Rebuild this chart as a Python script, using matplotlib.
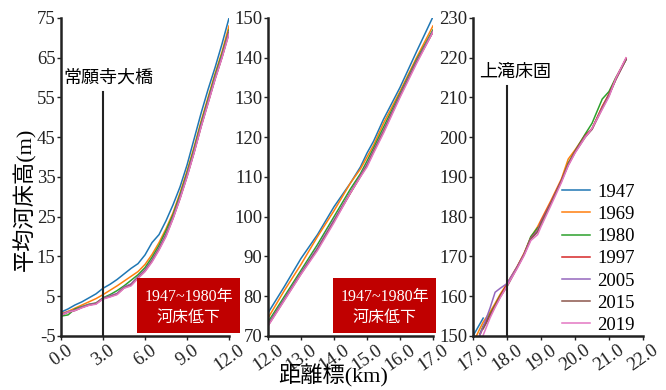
import matplotlib
matplotlib.use("Agg")
import matplotlib.pyplot as plt
from matplotlib.patches import Rectangle

plt.rcParams['font.family'] = ['Liberation Serif', 'Noto Sans CJK JP']
plt.rcParams['axes.unicode_minus'] = False

years = ['1947', '1969', '1980', '1997', '2005', '2015', '2019']
colors = ['#1f77b4', '#ff7f0e', '#2ca02c', '#d62728', '#9467bd', '#8c564b', '#e377c2']

# 0 - 12 km
km_a = [0, 0.5, 1, 1.5, 2, 2.5, 3, 3.5, 4, 4.5, 5, 5.5, 6, 6.5, 7, 7.5, 8, 8.5, 9, 9.5, 10, 10.5, 11, 11.5, 12]
bed_a = {
    '1947': [1.0, 1.8, 2.8, 3.6, 4.6, 5.6, 7.0, 8.0, 9.2, 10.6, 12.0, 13.2, 15.4, 18.5, 20.5, 24.0, 28.0, 32.5, 38.0, 44.5, 51.0, 57.0, 62.5, 68.5, 75.0],
    '1969': [0.6, 1.2, 2.0, 2.8, 3.6, 4.4, 5.4, 6.5, 7.6, 8.8, 10.0, 11.2, 13.0, 15.5, 18.5, 22.0, 26.0, 31.0, 36.5, 42.5, 49.0, 55.0, 61.0, 66.5, 73.0],
    '1980': [0.0, 0.3, 1.8, 2.4, 3.0, 3.3, 4.6, 5.4, 6.4, 7.6, 9.0, 10.4, 12.2, 14.8, 17.8, 21.5, 25.5, 30.5, 36.0, 42.0, 48.5, 54.5, 60.5, 66.0, 72.0],
    '1997': [0.3, 1.0, 1.5, 2.2, 2.8, 3.2, 4.4, 5.0, 5.6, 7.2, 8.0, 9.8, 11.5, 14.0, 17.0, 20.5, 24.8, 29.8, 35.3, 41.3, 47.8, 53.8, 59.8, 65.3, 71.5],
    '2005': [0.4, 1.1, 1.5, 2.3, 2.9, 3.2, 4.5, 5.1, 5.7, 7.3, 8.1, 9.9, 11.6, 14.1, 17.1, 20.6, 24.9, 29.9, 35.4, 41.4, 47.9, 53.9, 59.9, 65.4, 71.6],
    '2015': [0.2, 1.0, 1.4, 2.2, 2.8, 3.1, 4.4, 4.9, 5.5, 7.1, 7.8, 9.6, 11.3, 13.8, 16.8, 20.2, 24.6, 29.6, 35.1, 41.1, 47.6, 53.6, 59.6, 65.1, 71.2],
    '2019': [0.2, 1.0, 1.4, 2.1, 2.7, 3.0, 4.3, 4.8, 5.4, 7.0, 7.6, 9.5, 11.2, 13.6, 16.6, 20.0, 24.5, 29.5, 35.0, 41.0, 47.5, 53.5, 59.5, 65.0, 71.0],
}

# 12 - 17 km
km_b = [12, 12.5, 13, 13.5, 14, 14.5, 14.8, 15, 15.2, 15.5, 16, 16.5, 17]
bed_b = {
    '1947': [75.8, 82.5, 89.5, 95.5, 102.5, 108.5, 112.5, 116.0, 119.0, 124.5, 132.5, 141.5, 150.3],
    '1969': [74.5, 81.5, 88.0, 95.0, 101.5, 108.5, 112.0, 115.0, 118.0, 123.5, 131.5, 140.0, 148.0],
    '1980': [73.5, 80.0, 86.5, 93.0, 100.0, 107.0, 110.8, 114.0, 117.3, 122.5, 131.0, 139.5, 147.0],
    '1997': [72.8, 79.3, 85.8, 92.0, 99.0, 106.0, 110.2, 113.0, 116.5, 121.5, 130.5, 139.0, 146.5],
    '2005': [72.9, 79.4, 85.9, 92.2, 99.2, 106.2, 110.3, 113.2, 116.6, 121.6, 130.6, 139.1, 146.7],
    '2015': [72.6, 79.1, 85.6, 91.8, 98.8, 106.0, 110.1, 112.8, 116.3, 121.3, 130.3, 138.8, 146.5],
    '2019': [72.5, 79.0, 85.5, 91.5, 98.5, 106.0, 110.0, 112.5, 116.0, 121.0, 130.0, 138.5, 146.5],
}

# 17 - 22 km
km_c = [17.0, 17.1, 17.2, 17.3, 17.5, 17.65, 17.8, 18.0, 18.3, 18.5, 18.7, 18.9, 19.0, 19.3, 19.6, 19.8, 20.0, 20.3, 20.5, 20.8, 21.0, 21.2, 21.5]
bed_c = {
    '1947': [150.0, 151.5, 153.0, 154.5] + [None] * 19,
    '1969': [None, 150.0, 151.8, 153.5, 156.0, 158.2, 160.5, 163.2, 167.5, 170.8, 174.8, 177.5, 179.2, 184.2, 189.5, 194.5, 196.8, 200.6, 202.0, 207.8, 210.8, 214.5, 219.8],
    '1980': [None, None, 150.5, 152.5, 155.5, 157.8, 160.2, 162.8, 167.3, 170.5, 175.0, 177.2, 177.8, 183.5, 189.0, 193.5, 196.5, 200.8, 203.5, 209.6, 211.5, 215.0, 219.5],
    '1997': [None, None, 150.2, 152.2, 155.2, 157.6, 160.0, 163.0, 167.4, 170.6, 174.6, 176.6, 178.8, 183.8, 189.2, 193.2, 196.4, 200.4, 202.2, 207.6, 210.9, 214.8, 219.8],
    '2005': [None, None, 150.2, 152.3, 157.0, 161.0, 162.0, 163.2, 167.4, 170.5, 174.5, 176.5, 178.6, 183.6, 189.0, 193.0, 196.2, 200.2, 202.0, 207.4, 210.6, 214.5, 219.6],
    '2015': [None, None, None, 151.8, 155.0, 157.4, 159.8, 162.4, 167.2, 170.4, 174.4, 176.2, 178.4, 183.5, 189.0, 193.0, 196.2, 200.0, 202.0, 207.2, 210.5, 214.6, 219.5],
    '2019': [None, None, None, 150.2, 154.5, 157.2, 159.6, 162.6, 167.0, 170.2, 174.0, 175.5, 177.5, 183.0, 188.6, 192.8, 196.0, 200.0, 202.2, 207.0, 210.2, 214.8, 220.0],
}

fig = plt.figure(figsize=(6.66, 3.9), dpi=100)
bottom, height = 0.1385, 0.8154
ax1 = fig.add_axes([0.0916, bottom, 0.2523, height])
ax2 = fig.add_axes([0.4024, bottom, 0.2477, height])
ax3 = fig.add_axes([0.7102, bottom, 0.2553, height])

panels = [
    (ax1, km_a, bed_a, (0, 12), [0, 3, 6, 9, 12], (-5, 75)),
    (ax2, km_b, bed_b, (12, 17), [12, 13, 14, 15, 16, 17], (70, 150)),
    (ax3, km_c, bed_c, (17, 22), [17, 18, 19, 20, 21, 22], (150, 230)),
]

for ax, km, bed, xlim, xt, ylim in panels:
    for yr, col in zip(years, colors):
        ys = [float('nan') if v is None else v for v in bed[yr]]
        ax.plot(km, ys, color=col, lw=1.1, label=yr)
    ax.set_xlim(*xlim)
    ax.set_ylim(*ylim)
    ax.set_xticks(xt)
    ax.set_xticklabels(['%.1f' % v for v in xt], rotation=35)
    ax.set_yticks(range(ylim[0], ylim[1] + 1, 10))
    for s in ['top', 'right']:
        ax.spines[s].set_visible(False)
    for s in ['left', 'bottom']:
        ax.spines[s].set_linewidth(1.8)
        ax.spines[s].set_color('#222222')
    ax.tick_params(labelsize=13.5, length=3, width=1, colors='#222222', pad=1)

# bridge / check dam markers
ax1.plot([3.0, 3.0], [-5, 56.5], color='#222222', lw=1.5)
ax1.text(3.4, 59.8, '常願寺大橋', ha='center', va='center', fontsize=13)
ax3.plot([18.0, 18.0], [150, 213], color='#222222', lw=1.5)
ax3.text(18.25, 216.3, '上滝床固', ha='center', va='center', fontsize=13)

ax3.legend(loc='lower right', bbox_to_anchor=(1.03, -0.035), fontsize=13.5,
           frameon=False, handlelength=1.5,
           handletextpad=0.4, labelspacing=0.27, borderpad=0.2)

# degradation notes
for x0 in [0.2057, 0.5]:
    fig.add_artist(Rectangle((x0, 0.1462), 0.1547, 0.141, transform=fig.transFigure,
                             facecolor='#c00000', edgecolor='none'))
    cx = x0 + 0.1547 / 2
    fig.text(cx, 0.2385, '1947~1980年', color='white', fontsize=11.5, ha='center', va='center')
    fig.text(cx, 0.1846, '河床低下', color='white', fontsize=11.5, ha='center', va='center')

fig.text(0.0375, 0.49, '平均河床高(m)', rotation=90, fontsize=16, ha='center', va='center')
fig.text(0.5, 0.036, '距離標(km)', fontsize=16, ha='center', va='center')

fig.savefig('out.png', dpi=100)
